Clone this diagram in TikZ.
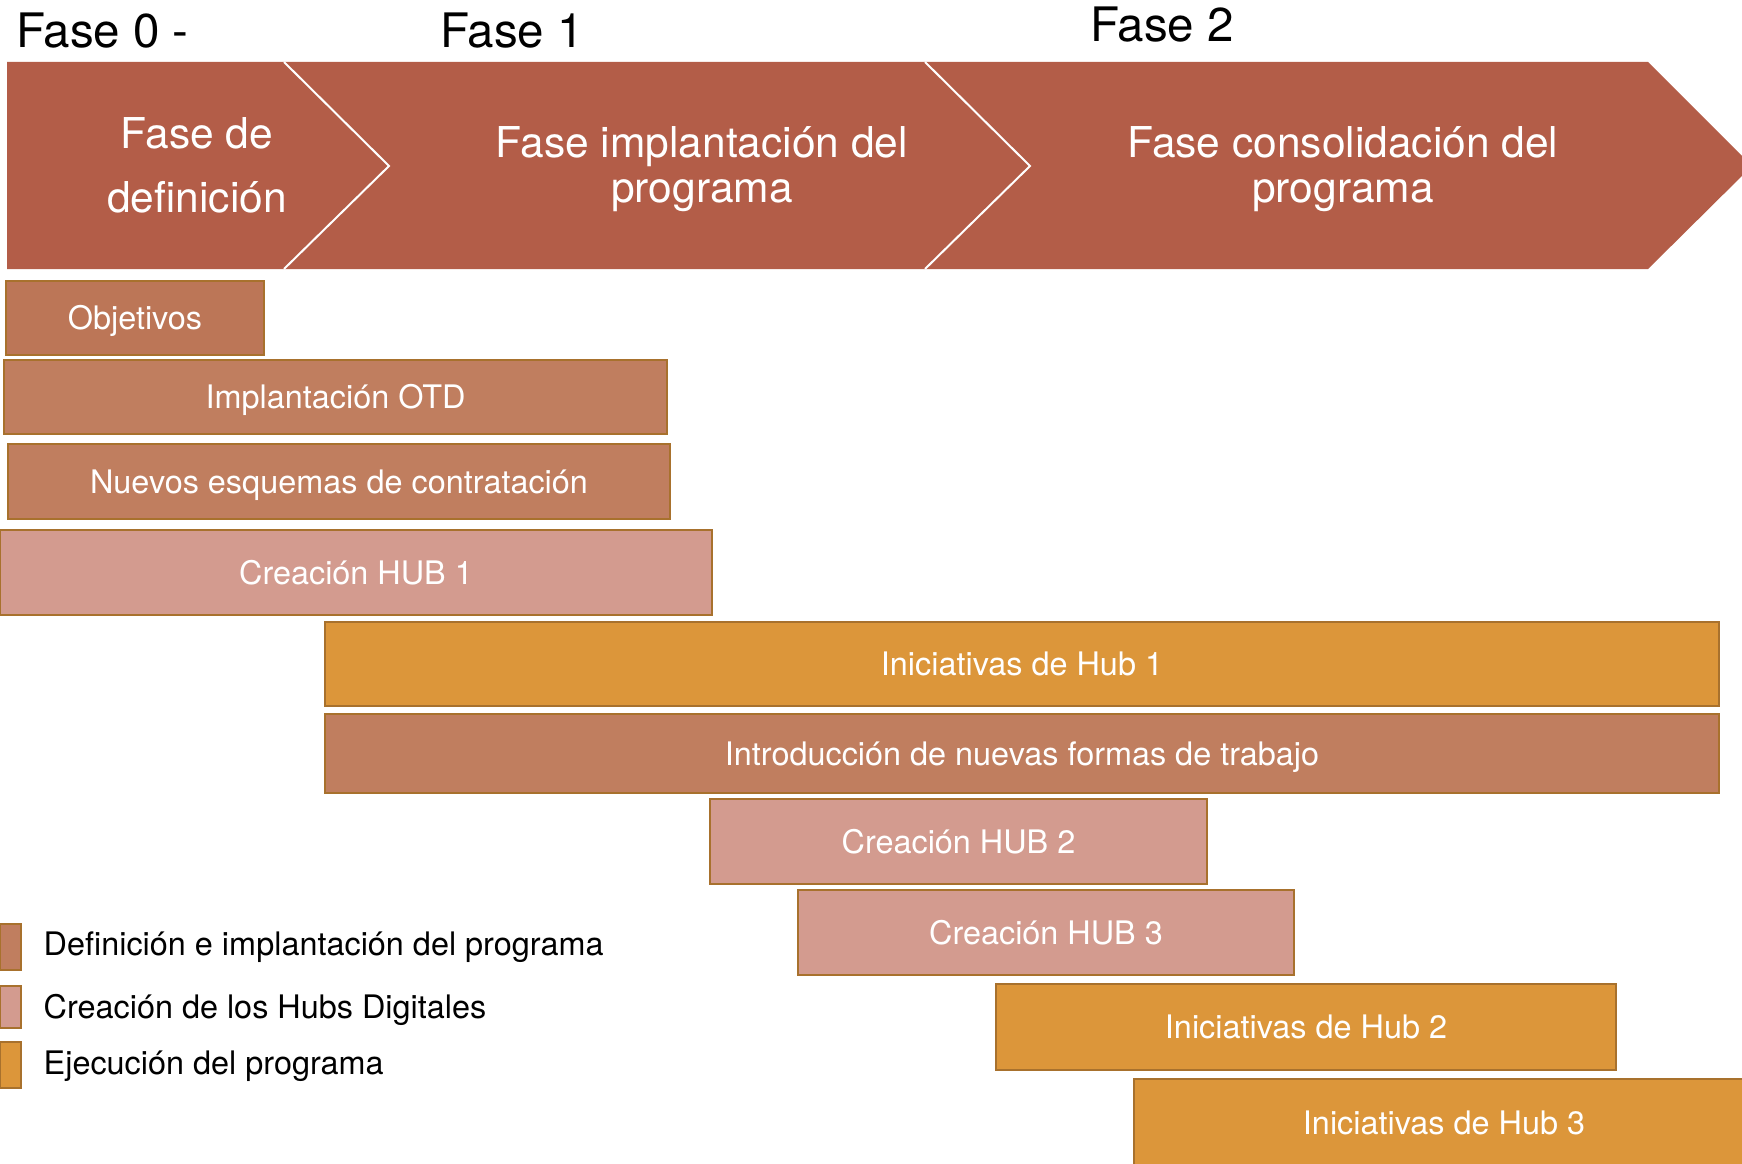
\documentclass[tikz,border=0pt]{standalone}
\usepackage{fontspec}
\setmainfont{TeX Gyre Heros}
\definecolor{bandc}{HTML}{B35D48}
\definecolor{objc}{HTML}{BC7657}
\definecolor{defc}{HTML}{C07E5F}
\definecolor{hubc}{HTML}{D39B8F}
\definecolor{ejec}{HTML}{DC963A}
\definecolor{barline}{HTML}{A8712D}
\begin{document}
\begin{tikzpicture}[x=1pt,y=-1pt,
  bar/.style={draw=barline, line width=2pt, inner sep=0pt, text=white,
    font=\fontsize{32.4}{38}\selectfont, text height=23.2pt, text depth=0pt},
  bandtxt/.style={anchor=base, inner sep=0pt, text=white, font=\fontsize{42.5}{50}\selectfont},
  titletxt/.style={anchor=base west, inner sep=0pt, text=black, font=\fontsize{47.5}{56}\selectfont},
  legsq/.style={draw=barline, line width=2pt, inner sep=0pt, minimum width=21pt},
  legtxt/.style={anchor=base west, inner sep=0pt, text=black, font=\fontsize{32.4}{38}\selectfont}]
\useasboundingbox (0,0) rectangle (1742,1164);
\begin{scope}
\clip (0,0) rectangle (1742,1164);
% titles
\node[titletxt] (t0) at (16,48) {Fase 0 -};
\node[titletxt] (t1) at (440,48) {Fase 1};
\node[titletxt] (t2) at (1090,42) {Fase 2};
% band
\fill[bandc] (7,62) -- (1648,62) -- (1752,166) -- (1648,269) -- (7,269) -- cycle;
\draw[white, line width=2pt] (284,62) -- (389,166) -- (284,269);
\draw[white, line width=2pt] (925,62) -- (1030,166) -- (925,269);
\node[bandtxt] (f0a) at (197,148) {Fase de};
\node[bandtxt] (f0b) at (197,212) {definición};
\node[bandtxt] (f1a) at (702,157) {Fase implantación del};
\node[bandtxt] (f1b) at (702,202) {programa};
\node[bandtxt] (f2a) at (1343,157) {Fase consolidación del};
\node[bandtxt] (f2b) at (1343,202) {programa};
% bars
\node[bar, fill=objc, minimum width=258pt, minimum height=74pt] (b1) at (135,318) {Objetivos};
\node[bar, fill=defc, minimum width=663pt, minimum height=74pt] (b2) at (335.5,397) {Implantación OTD};
\node[bar, fill=defc, minimum width=662pt, minimum height=75pt] (b3) at (339,481.5) {Nuevos esquemas de contratación};
\node[bar, fill=hubc, minimum width=712pt, minimum height=85pt] (b4) at (356,572.5) {Creación HUB 1};
\node[bar, fill=ejec, minimum width=1394pt, minimum height=84pt] (b5) at (1022,664) {Iniciativas de Hub 1};
\node[bar, fill=defc, minimum width=1394pt, minimum height=79pt] (b6) at (1022,753.5) {Introducción de nuevas formas de trabajo};
\node[bar, fill=hubc, minimum width=497pt, minimum height=85pt] (b7) at (958.5,841.5) {Creación HUB 2};
\node[bar, fill=hubc, minimum width=496pt, minimum height=85pt] (b8) at (1046,932.5) {Creación HUB 3};
\node[bar, fill=ejec, minimum width=620pt, minimum height=86pt] (b9) at (1306,1027) {Iniciativas de Hub 2};
\node[bar, fill=ejec, minimum width=620pt, minimum height=87pt] (b10) at (1444,1122.5) {Iniciativas de Hub 3};
% legend
\node[legsq, fill=defc, minimum height=46pt] (l1) at (10,946.5) {};
\node[legsq, fill=hubc, minimum height=42pt] (l2) at (10,1007) {};
\node[legsq, fill=ejec, minimum height=46pt] (l3) at (10,1065) {};
\node[legtxt] (lt1) at (43.5,955.5) {Definición e implantación del programa};
\node[legtxt] (lt2) at (43.5,1018) {Creación de los Hubs Digitales};
\node[legtxt] (lt3) at (43.5,1074) {Ejecución del programa};
\end{scope}
\end{tikzpicture}
\end{document}
